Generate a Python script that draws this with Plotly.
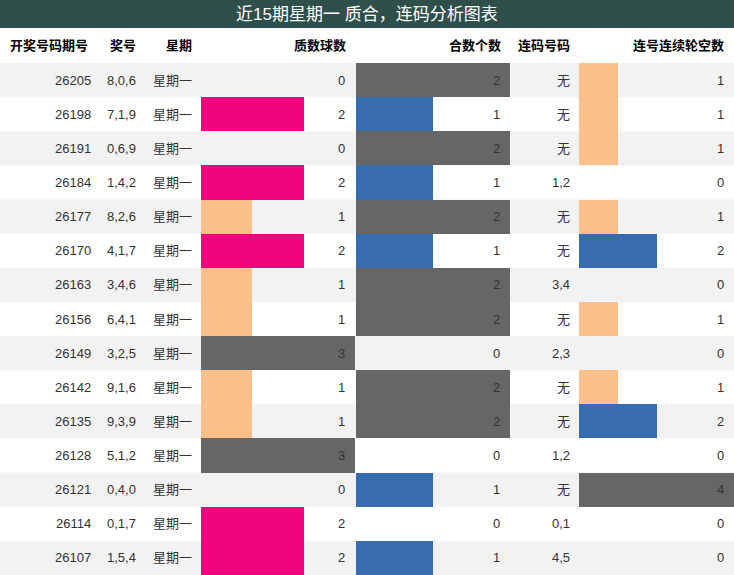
import plotly.graph_objects as go

title = "近15期星期一 质合，连码分析图表"
headers = ["开奖号码期号", "奖号", "星期", "质数球数", "合数个数", "连码号码", "连号连续轮空数"]
issues = ["26205","26198","26191","26184","26177","26170","26163","26156","26149","26142","26135","26128","26121","26114","26107"]
numbers = ["8,0,6","7,1,9","0,6,9","1,4,2","8,2,6","4,1,7","3,4,6","6,4,1","3,2,5","9,1,6","9,3,9","5,1,2","0,4,0","0,1,7","1,5,4"]
weekday = ["星期一"] * 15
primes = [0,2,0,2,1,2,1,1,3,1,1,3,0,2,2]
composites = [2,1,2,1,2,1,2,2,0,2,2,0,1,0,1]
consec = ["无","无","无","1,2","无","无","3,4","无","2,3","无","无","1,2","无","0,1","4,5"]
gaps = [1,1,1,0,1,2,0,1,0,1,2,0,4,0,0]

W, H = 734, 575
TOP, HDR = 28, 63
RH = (H - HDR) / 15
cols = [(0,100),(100,145),(145,200),(200,355),(355,510),(510,578),(578,734)]
prime_col = {1:"#FDC08A", 2:"#F0047F", 3:"#666666"}
comp_col = {1:"#386CB0", 2:"#666666"}
gap_col = {1:"#FDC08A", 2:"#386CB0", 4:"#666666"}

yc = [HDR + RH*(i+0.5) for i in range(15)]
fig = go.Figure()
shapes = [dict(type="rect", xref="x", yref="y", x0=0, x1=W, y0=0, y1=TOP, fillcolor="#2F4F4B", line_width=0, layer="below")]
for i in range(15):
    if i % 2 == 0:
        shapes.append(dict(type="rect", xref="x", yref="y", x0=0, x1=W, y0=HDR+RH*i, y1=HDR+RH*(i+1), fillcolor="#F2F2F2", line_width=0, layer="below"))

def add_bars(vals, col, cmap, vmax):
    x0, x1 = cols[col]
    span = x1 - x0
    fig.add_trace(go.Bar(orientation="h", y=yc, base=[x0+1]*15,
                         x=[v/vmax*(span-1) for v in vals],
                         marker=dict(color=[cmap.get(v, "rgba(0,0,0,0)") for v in vals], line_width=0),
                         width=RH, hoverinfo="skip"))

add_bars(primes, 3, prime_col, 3)
add_bars(composites, 4, comp_col, 2)
add_bars(gaps, 6, gap_col, 4)

FONT = "Liberation Sans, Noto Sans CJK SC"
ann = [dict(x=W/2, y=TOP/2, text=title, showarrow=False, xref="x", yref="y",
            font=dict(size=17, color="white", family=FONT))]
hdr_x = [8, 138, 194, 348, 503, 572, 726]
hdr_anchor = ["left","right","right","right","right","right","right"]
for t, x, a in zip(headers, hdr_x, hdr_anchor):
    ann.append(dict(x=x, y=(TOP+HDR)/2, text="<b>"+t+"</b>", showarrow=False, xanchor=a,
                    xref="x", yref="y", font=dict(size=13, color="black", family=FONT)))
cells = [issues, numbers, weekday, [str(v) for v in primes], [str(v) for v in composites], consec, [str(v) for v in gaps]]
cell_x = [93, 138, 194, 347, 502, 572, 726]
for col, x in zip(cells, cell_x):
    for i, t in enumerate(col):
        ann.append(dict(x=x, y=yc[i], text=t, showarrow=False, xanchor="right", xref="x", yref="y",
                        font=dict(size=13, color="#333333", family=FONT)))

fig.update_layout(width=W, height=H, margin=dict(l=0, r=0, t=0, b=0),
                  plot_bgcolor="white", paper_bgcolor="white", showlegend=False,
                  barmode="overlay", bargap=0, shapes=shapes, annotations=ann,
                  xaxis=dict(range=[0, W], visible=False, fixedrange=True),
                  yaxis=dict(range=[H, 0], visible=False, fixedrange=True))

body = fig.to_html(full_html=False, include_plotlyjs=True, config={"displayModeBar": False})
html = ("<!DOCTYPE html><html><head><meta charset='utf-8'>"
        "<style>html,body{margin:0;padding:0;overflow:hidden;}</style></head><body>"
        + body + "</body></html>")
with open("out.html", "w", encoding="utf-8") as f:
    f.write(html)
